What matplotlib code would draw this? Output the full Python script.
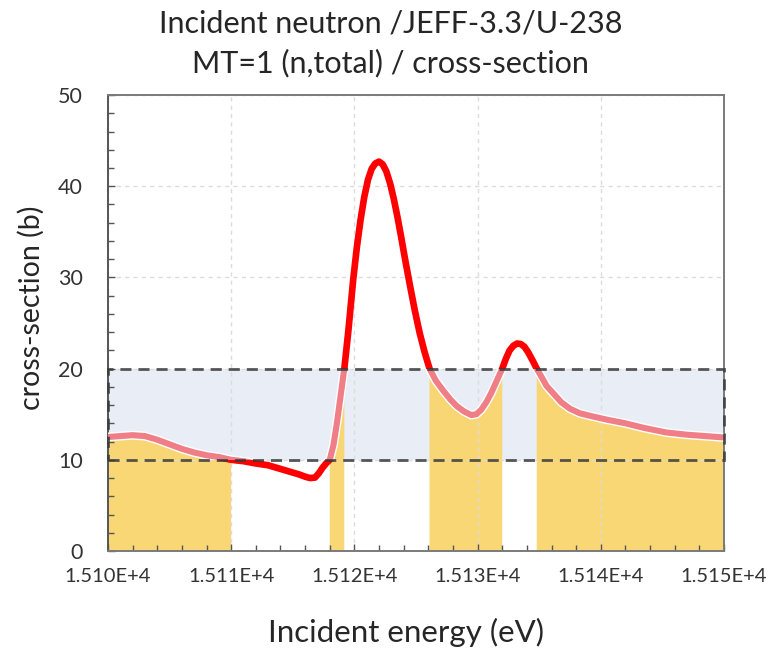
import numpy as np
import matplotlib
matplotlib.use("Agg")
import matplotlib.pyplot as plt
from matplotlib.patches import Rectangle
from matplotlib.ticker import MultipleLocator, FuncFormatter
import matplotlib.patheffects as pe

plt.rcParams['font.family'] = ['Lato', 'DejaVu Sans']

# U-238 total cross-section (JEFF-3.3) around 15.10-15.15 keV
energy = [15100, 15101, 15102, 15103, 15104, 15105, 15106, 15107, 15108, 15109,
          15110, 15111, 15112, 15113, 15114, 15115, 15115.5, 15116, 15116.4, 15116.8,
          15117.1, 15117.4, 15117.7, 15118.0, 15118.3, 15118.6, 15118.9, 15119.2,
          15119.5, 15119.9, 15120.2, 15120.5, 15120.8, 15121.1, 15121.4, 15121.7,
          15122.0, 15122.3, 15122.6, 15122.9, 15123.2, 15123.5, 15123.8, 15124.1,
          15124.5, 15124.9, 15125.3, 15125.7, 15126.1, 15126.6, 15127.2, 15127.8,
          15128.3, 15128.9, 15129.5, 15129.9, 15130.3, 15130.7, 15131.1, 15131.5,
          15132.0, 15132.3, 15132.6, 15132.9, 15133.2, 15133.5, 15133.8, 15134.1,
          15134.5, 15134.8, 15135.1, 15135.6, 15136.2, 15136.8, 15137.5, 15138.3,
          15139.2, 15140.5, 15142.0, 15143.5, 15145.3, 15147.0, 15148.5, 15150]
xs_barn = [12.5, 12.6, 12.7, 12.6, 12.2, 11.7, 11.2, 10.8, 10.5, 10.3,
           10.0, 9.85, 9.6, 9.4, 9.0, 8.6, 8.4, 8.15, 8.0, 8.05,
           8.5, 9.1, 9.6, 10.0, 11.6, 14.2, 17.2, 20.2,
           24.0, 29.7, 33.3, 36.3, 38.8, 40.7, 41.9, 42.5,
           42.7, 42.4, 41.6, 40.3, 38.6, 36.6, 34.4, 32.1,
           29.2, 26.4, 23.9, 21.8, 20.0, 18.7, 17.6, 16.6,
           15.9, 15.3, 14.9, 15.0, 15.5, 16.3, 17.3, 18.5,
           20.0, 21.1, 22.0, 22.5, 22.75, 22.7, 22.4, 21.8,
           20.8, 20.0, 19.3, 18.1, 17.2, 16.3, 15.6, 15.1,
           14.8, 14.4, 14.0, 13.5, 13.0, 12.75, 12.6, 12.45]

band_low, band_high = 10, 20
x_ticks = [15100, 15110, 15120, 15130, 15140, 15150]
y_ticks = [0, 10, 20, 30, 40, 50]

e = np.array(energy, dtype=float)
s = np.array(xs_barn, dtype=float)

fig = plt.figure(figsize=(7.69, 6.54), dpi=100)
ax = fig.add_axes([0.1404, 0.1575, 0.8011, 0.6972])
ax.set_xlim(e.min(), e.max())
ax.set_ylim(0, 50)

# target band
band = Rectangle((e.min(), band_low), e.max() - e.min(), band_high - band_low,
                 facecolor='#e8edf6', edgecolor='none', zorder=0.5)
ax.add_patch(band)

# shade under the curve wherever it lies inside the band
e_fine = np.linspace(e.min(), e.max(), 5001)
s_fine = np.interp(e_fine, e, s)
inside = (s_fine >= band_low) & (s_fine <= band_high)
ax.fill_between(e_fine, 0, s_fine, where=inside, facecolor='#f9d56c',
                edgecolor='none', alpha=0.95, zorder=1)

# curve
ax.plot(e, s, color='#ff0000', lw=4.8, solid_capstyle='round',
        solid_joinstyle='round', zorder=3)
pink, = ax.plot(e, s, color='#ef7e87', lw=4.4, zorder=4, solid_joinstyle='round',
                path_effects=[pe.Stroke(linewidth=6.4, foreground='white'), pe.Normal()])
clip = Rectangle((e.min(), band_low), e.max() - e.min(), band_high - band_low,
                 transform=ax.transData, facecolor='none', edgecolor='none')
pink.set_clip_path(clip)

# band outline
ax.add_patch(Rectangle((e.min(), band_low), e.max() - e.min(), band_high - band_low,
                       facecolor='none', edgecolor='#3a3a3a', lw=2.0, alpha=0.85,
                       linestyle=(0, (4, 2.5)), zorder=5, clip_on=False))

# axes styling
ax.set_axisbelow('line')
ax.grid(True, which='major', color='#dcdcdc', linestyle=(0, (3, 3)), lw=1.0)
ax.xaxis.set_minor_locator(MultipleLocator(2))
ax.yaxis.set_minor_locator(MultipleLocator(2))
ax.set_xticks(x_ticks)
ax.set_yticks(y_ticks)
ax.xaxis.set_major_formatter(FuncFormatter(lambda v, p: f"{v / 1e4:.3f}E+4"))
ax.tick_params(which='both', direction='in', color='#555555', top=False, right=False)
ax.tick_params(which='major', length=5, width=1)
ax.tick_params(which='minor', length=4, width=1)
ax.tick_params(axis='x', which='major', labelsize=14.5, labelcolor='#333333', pad=12)
ax.tick_params(axis='y', which='major', labelsize=15.5, labelcolor='#333333', pad=18)
for side in ['left', 'bottom', 'top', 'right']:
    ax.spines[side].set_color('#7a7a7a')
    ax.spines[side].set_linewidth(1.4)
ax.spines['left'].set_color('#555555')

fig.text(406 / 769, 1 - 632 / 654, 'Incident energy (eV)', ha='center', va='center',
         fontsize=22.5, color='#262626')
fig.text(31 / 769, 1 - 308 / 654, 'cross-section (b)', ha='center', va='center',
         rotation=90, fontsize=20.5, color='#262626')

fig.text(0.508, 0.964, 'Incident neutron /JEFF-3.3/U-238', ha='center', va='center',
         fontsize=22, color='#262626')
fig.text(0.508, 0.903, 'MT=1 (n,total) / cross-section', ha='center', va='center',
         fontsize=22, color='#262626')

fig.savefig('out.png', dpi=100)
